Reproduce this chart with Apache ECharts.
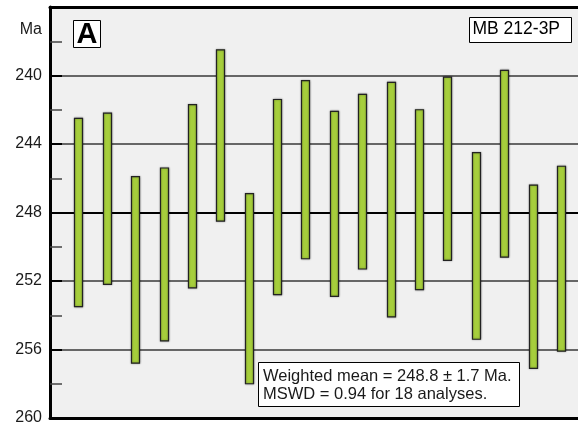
<!DOCTYPE html>
<html>
<head>
<meta charset="utf-8">
<script src="https://cdn.jsdelivr.net/npm/echarts@6/dist/echarts.min.js"></script>
<style>
html,body{margin:0;padding:0;background:#fff;}
#chart{width:578px;height:427px;}
</style>
</head>
<body>
<div id="chart"></div>
<script>
// Analyses (spot number), and age range of each bar (Ma)
const analyses = [1,2,3,4,5,6,7,8,9,10,11,12,13,14,15,16,17,18];
const ageYoung = [242.5,242.2,245.9,245.4,241.7,238.5,246.9,241.4,240.3,242.1,241.1,240.4,242.0,240.1,244.5,239.7,246.4,245.3];
const ageOld   = [253.5,252.2,256.8,255.5,252.4,248.5,258.0,252.8,250.7,252.9,251.3,254.1,252.5,250.8,255.4,250.6,257.1,256.1];
const yTickLabels = [240,244,248,252,256,260];
const panelLabel = 'A';
const sampleName = 'MB 212-3P';
const statsLines = ['Weighted mean = 248.8 ± 1.7 Ma.', 'MSWD = 0.94 for 18 analyses.'];

const data = analyses.map((a,i)=>[a, ageYoung[i], ageOld[i]]);

const chart = echarts.init(document.getElementById('chart'), null, {renderer:'canvas'});
const font = '"Liberation Sans", Arial, sans-serif';

chart.setOption({
  animation:false,
  backgroundColor:'#ffffff',
  grid:{left:50,right:0,top:7,bottom:9,show:true,backgroundColor:'#f0f0f0',borderWidth:0},
  xAxis:[{
    type:'value',min:0,max:18.6,position:'bottom',
    axisLine:{show:true,onZero:false,lineStyle:{color:'#000',width:3}},
    axisTick:{show:false},axisLabel:{show:false},splitLine:{show:false}
  },{
    type:'value',min:0,max:18.6,position:'top',
    axisLine:{show:true,onZero:false,lineStyle:{color:'#000',width:3}},
    axisTick:{show:false},axisLabel:{show:false},splitLine:{show:false}
  }],
  yAxis:{
    type:'value',inverse:true,min:236,max:260,interval:4,
    axisLine:{show:true,lineStyle:{color:'#000',width:3}},
    axisTick:{show:true,inside:true,length:12,lineStyle:{color:'#000',width:2}},
    minorTick:{show:true,splitNumber:2,length:12,lineStyle:{color:'#444',width:1.5}},
    axisLabel:{margin:8,color:'#1a1a1a',fontSize:16,fontFamily:font,
      formatter:v=>yTickLabels.includes(v)?String(v):''},
    splitLine:{show:true,lineStyle:{width:2,color:['#000','#666','#666','#000','#666','#666','#000']}}
  },
  series:[{
    type:'custom',
    xAxisIndex:0,
    data:data,
    encode:{x:0,y:[1,2]},
    renderItem:function(params,api){
      const x=api.value(0);
      const p1=api.coord([x,api.value(1)]);
      const p2=api.coord([x,api.value(2)]);
      const w=8;
      return {type:'rect',
        shape:{x:Math.round(p1[0]-w/2)+0.5,y:Math.min(p1[1],p2[1]),width:w,height:Math.abs(p2[1]-p1[1])},
        style:{fill:'#a6ce3c',stroke:'#222',lineWidth:1.2,shadowBlur:2,shadowColor:'rgba(0,0,0,0.35)'}};
    }
  }],
  graphic:[
    {type:'text',right:578-42,top:22,style:{text:'Ma',font:'16px '+font,fill:'#1a1a1a'}},
    {type:'rect',shape:{x:73.5,y:20.5,width:27,height:27},style:{fill:'#fff',stroke:'#000',lineWidth:1}},
    {type:'text',left:76.5,top:20,style:{text:panelLabel,font:'bold 29px '+font,fill:'#000'}},
    {type:'rect',shape:{x:469.5,y:17.5,width:102,height:25},style:{fill:'#fff',stroke:'#000',lineWidth:1}},
    {type:'text',left:472.5,top:20.5,style:{text:sampleName,font:'17.5px '+font,fill:'#000'}},
    {type:'rect',shape:{x:258.5,y:362.5,width:261,height:44},style:{fill:'#fff',stroke:'#000',lineWidth:1}},
    {type:'text',left:263,top:367.5,style:{text:statsLines.join('\n'),font:'16.5px '+font,lineHeight:18,fill:'#1a1a1a'}}
  ]
});
</script>
</body>
</html>
